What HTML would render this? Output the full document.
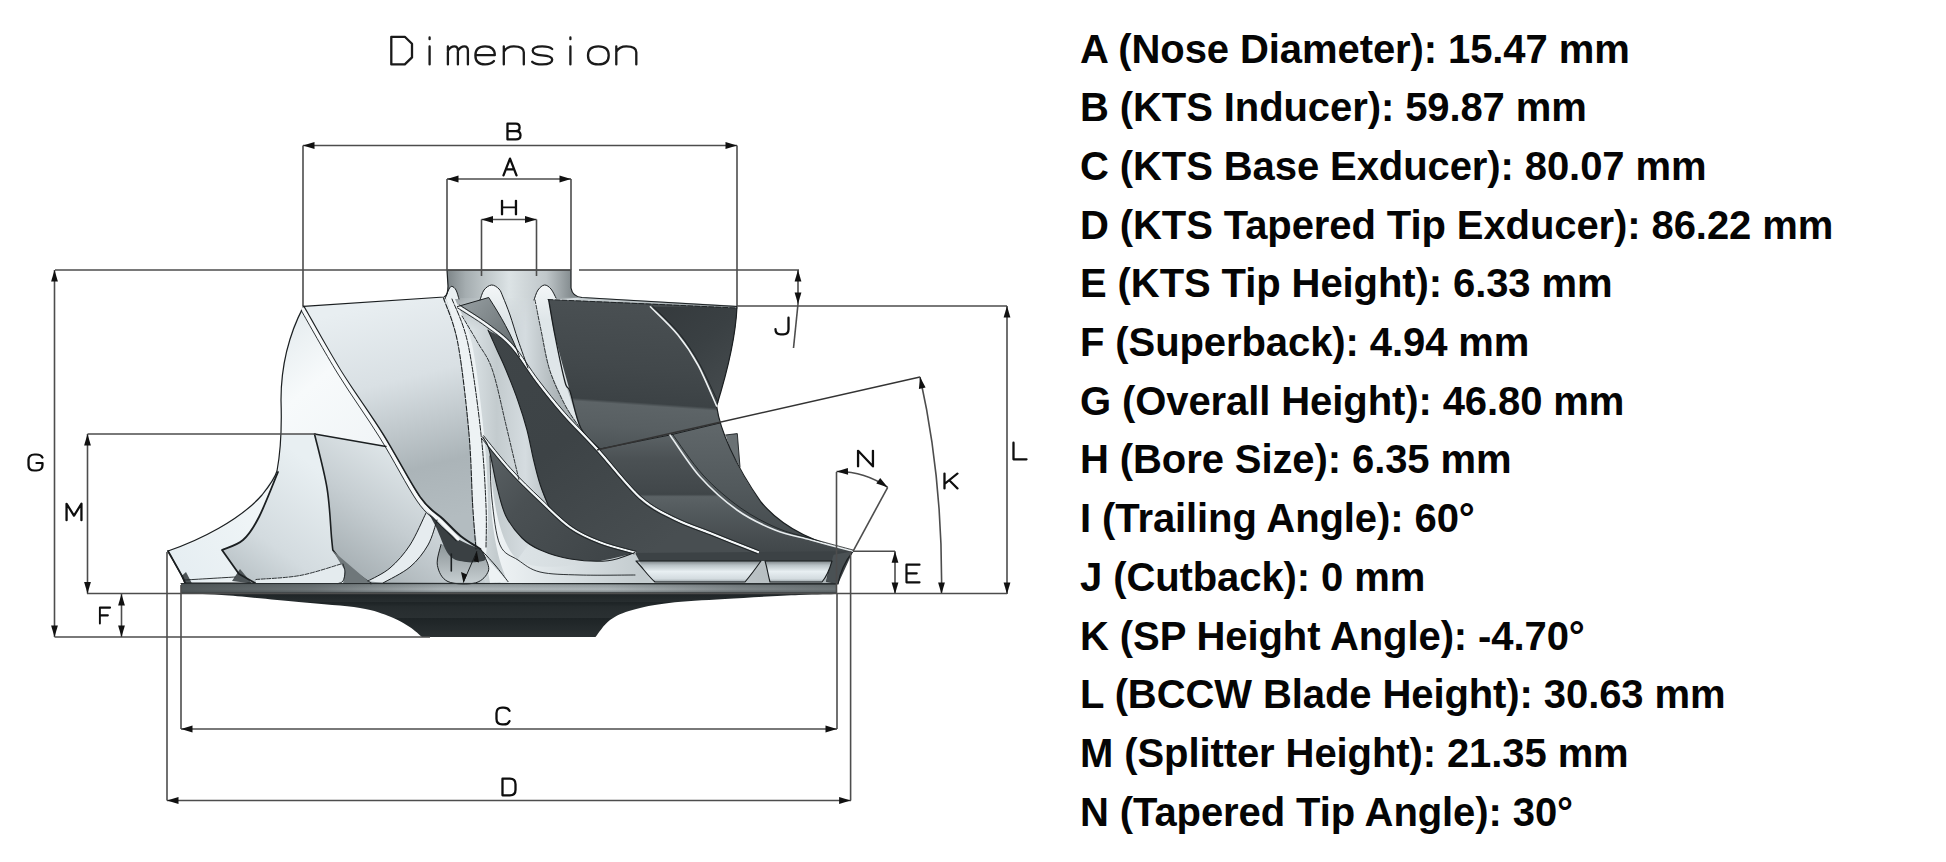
<!DOCTYPE html>
<html><head><meta charset="utf-8"><style>
html,body{margin:0;padding:0;background:#fff;width:1946px;height:862px;overflow:hidden}
svg{position:absolute;left:0;top:0}
.dl{stroke:#4d4d4d;stroke-width:1.6;fill:none}
.ah{fill:#111}
.lt{fill:none;stroke:#0e0e0e;stroke-linecap:round;stroke-linejoin:round}
.tt{fill:none;stroke:#1a1a1a;stroke-width:2.3;stroke-linecap:round;stroke-linejoin:round}
.ln{position:absolute;left:1080px;font-family:"Liberation Sans",sans-serif;font-weight:bold;font-size:40px;line-height:40px;letter-spacing:-0.09px;color:#050505;white-space:nowrap}
</style></head><body>
<svg width="1946" height="862" viewBox="0 0 1946 862">
<defs><linearGradient id="gBand" gradientUnits="userSpaceOnUse" x1="0" y1="583.5" x2="0" y2="594"><stop offset="0" stop-color="#6d7577"/><stop offset="0.15" stop-color="#98a0a3"/><stop offset="0.55" stop-color="#b2babd"/><stop offset="0.8" stop-color="#8a9295"/><stop offset="0.88" stop-color="#2e3436"/><stop offset="1" stop-color="#212729"/></linearGradient><linearGradient id="gUnder" gradientUnits="userSpaceOnUse" x1="0" y1="594" x2="0" y2="637"><stop offset="0" stop-color="#1f2527"/><stop offset="0.18" stop-color="#272d2f"/><stop offset="0.2" stop-color="#1d2325"/><stop offset="0.3" stop-color="#262c2e"/><stop offset="0.55" stop-color="#2a3032"/><stop offset="0.57" stop-color="#1e2426"/><stop offset="1" stop-color="#2a3032"/></linearGradient><linearGradient id="gBandX" gradientUnits="userSpaceOnUse" x1="181" y1="0" x2="837" y2="0"><stop offset="0" stop-color="#3f4648" stop-opacity="0.85"/><stop offset="0.2" stop-color="#3f4648" stop-opacity="0.6"/><stop offset="0.4" stop-color="#3f4648" stop-opacity="0.05"/><stop offset="0.65" stop-color="#3f4648" stop-opacity="0.05"/><stop offset="0.85" stop-color="#3f4648" stop-opacity="0.45"/><stop offset="1" stop-color="#3f4648" stop-opacity="0.6"/></linearGradient><linearGradient id="gHub" gradientUnits="userSpaceOnUse" x1="280" y1="0" x2="850" y2="0"><stop offset="0" stop-color="#eef3f5"/><stop offset="0.35" stop-color="#e0e7ea"/><stop offset="0.6" stop-color="#d0d7da"/><stop offset="1" stop-color="#a9b1b4"/></linearGradient><linearGradient id="gChan" gradientUnits="userSpaceOnUse" x1="445" y1="0" x2="560" y2="0"><stop offset="0" stop-color="#eef3f5"/><stop offset="0.2" stop-color="#dde4e7"/><stop offset="0.45" stop-color="#c3cbce"/><stop offset="0.7" stop-color="#d5dce0"/><stop offset="1" stop-color="#aab2b5"/></linearGradient><linearGradient id="gNose" gradientUnits="userSpaceOnUse" x1="447" y1="0" x2="571" y2="0"><stop offset="0" stop-color="#7d8588"/><stop offset="0.15" stop-color="#a5adb0"/><stop offset="0.5" stop-color="#dce3e5"/><stop offset="0.8" stop-color="#c0c7ca"/><stop offset="1" stop-color="#858d90"/></linearGradient><linearGradient id="gFadeV" gradientUnits="userSpaceOnUse" x1="0" y1="294" x2="0" y2="330"><stop offset="0" stop-color="#fff" stop-opacity="1"/><stop offset="1" stop-color="#fff" stop-opacity="0"/></linearGradient><mask id="mFade" maskUnits="userSpaceOnUse" x="430" y="280" width="170" height="60"><rect x="430" y="280" width="170" height="60" fill="url(#gFadeV)"/></mask><linearGradient id="gArch" gradientUnits="userSpaceOnUse" x1="0" y1="284" x2="0" y2="320"><stop offset="0" stop-color="#f4f7f8"/><stop offset="1" stop-color="#dfe6e9"/></linearGradient><linearGradient id="gOuter" gradientUnits="userSpaceOnUse" x1="280" y1="320" x2="380" y2="440"><stop offset="0" stop-color="#e4ebee"/><stop offset="0.45" stop-color="#f7fafb"/><stop offset="1" stop-color="#f1f5f7"/></linearGradient><linearGradient id="gTip" gradientUnits="userSpaceOnUse" x1="170" y1="550" x2="280" y2="470"><stop offset="0" stop-color="#e6eef2"/><stop offset="1" stop-color="#f4f8f9"/></linearGradient><linearGradient id="gB2" gradientUnits="userSpaceOnUse" x1="240" y1="580" x2="320" y2="470"><stop offset="0" stop-color="#b9c2c6"/><stop offset="0.35" stop-color="#d3dbdf"/><stop offset="1" stop-color="#e8eff2"/></linearGradient><linearGradient id="gSpl" gradientUnits="userSpaceOnUse" x1="330" y1="570" x2="410" y2="450"><stop offset="0" stop-color="#a2abaf"/><stop offset="0.5" stop-color="#c5cdd1"/><stop offset="1" stop-color="#e2e9ec"/></linearGradient><linearGradient id="gB1" gradientUnits="userSpaceOnUse" x1="390" y1="300" x2="445" y2="520"><stop offset="0" stop-color="#e8eef1"/><stop offset="0.35" stop-color="#d9e0e4"/><stop offset="0.75" stop-color="#abb4b8"/><stop offset="1" stop-color="#b3bcc0"/></linearGradient><linearGradient id="gPk" gradientUnits="userSpaceOnUse" x1="0" y1="545" x2="0" y2="583"><stop offset="0" stop-color="#8d9699"/><stop offset="1" stop-color="#c6ced1"/></linearGradient><linearGradient id="gD1" gradientUnits="userSpaceOnUse" x1="640" y1="300" x2="629.5" y2="450"><stop offset="0" stop-color="#4a5053"/><stop offset="0.45" stop-color="#42484b"/><stop offset="0.68" stop-color="#3c4245"/><stop offset="0.7" stop-color="#5d6467"/><stop offset="0.85" stop-color="#585f62"/><stop offset="1" stop-color="#4d5457"/></linearGradient><linearGradient id="gSliv" gradientUnits="userSpaceOnUse" x1="650" y1="300" x2="730" y2="400"><stop offset="0" stop-color="#34393c"/><stop offset="0.5" stop-color="#3a4043"/><stop offset="1" stop-color="#464c4f"/></linearGradient><linearGradient id="gTop" gradientUnits="userSpaceOnUse" x1="578" y1="0" x2="737" y2="0"><stop offset="0" stop-color="#c9d1d4"/><stop offset="0.5" stop-color="#b3bbbe"/><stop offset="1" stop-color="#8f979a"/></linearGradient><linearGradient id="gD2" gradientUnits="userSpaceOnUse" x1="0" y1="435" x2="0" y2="556"><stop offset="0" stop-color="#5b6265"/><stop offset="0.2" stop-color="#4b5154"/><stop offset="0.45" stop-color="#42484b"/><stop offset="0.49" stop-color="#3f4548"/><stop offset="0.51" stop-color="#5b6265"/><stop offset="0.65" stop-color="#52595c"/><stop offset="0.85" stop-color="#474d50"/><stop offset="1" stop-color="#3f4548"/></linearGradient><linearGradient id="gD2s" gradientUnits="userSpaceOnUse" x1="0" y1="425" x2="0" y2="552"><stop offset="0" stop-color="#60676a"/><stop offset="0.5" stop-color="#52595c"/><stop offset="1" stop-color="#41474a"/></linearGradient><linearGradient id="gD0" gradientUnits="userSpaceOnUse" x1="480" y1="330" x2="640" y2="560"><stop offset="0" stop-color="#3f4548"/><stop offset="0.5" stop-color="#3d4346"/><stop offset="1" stop-color="#484e51"/></linearGradient><linearGradient id="gTri" gradientUnits="userSpaceOnUse" x1="460" y1="300" x2="520" y2="350"><stop offset="0" stop-color="#979fa2"/><stop offset="1" stop-color="#626a6d"/></linearGradient><linearGradient id="gS" gradientUnits="userSpaceOnUse" x1="490" y1="450" x2="620" y2="560"><stop offset="0" stop-color="#5a6164"/><stop offset="0.35" stop-color="#4a5053"/><stop offset="1" stop-color="#3e4447"/></linearGradient><linearGradient id="gCav" gradientUnits="userSpaceOnUse" x1="0" y1="561" x2="0" y2="582"><stop offset="0" stop-color="#7d8588"/><stop offset="0.2" stop-color="#b9c2c6"/><stop offset="0.5" stop-color="#e8eff2"/><stop offset="0.85" stop-color="#d3dbdf"/><stop offset="1" stop-color="#9aa3a7"/></linearGradient><linearGradient id="gCav2" gradientUnits="userSpaceOnUse" x1="490" y1="0" x2="640" y2="0"><stop offset="0" stop-color="#f0f4f6"/><stop offset="0.5" stop-color="#d9e0e3"/><stop offset="1" stop-color="#c4cccf"/></linearGradient></defs><path d="M181,594 L837,594  C830.7,594.2 817.7,594.2 799.0,595.0 C780.3,595.8 746.7,597.7 725.0,599.0 C703.3,600.3 684.4,601.2 669.0,603.0 C653.6,604.8 642.3,607.2 632.5,610.0 C622.7,612.8 616.2,615.5 610.0,620.0 C603.8,624.5 597.9,634.2 595.5,637.0 L422,637  C419.9,635.3 414.9,630.3 409.7,627.0 C404.5,623.7 399.3,620.2 391.0,617.0 C382.7,613.8 375.4,610.5 360.0,608.0 C344.6,605.5 321.8,604.2 298.7,602.0 C275.6,599.8 241.3,596.3 221.7,595.0 C202.1,593.7 187.8,594.2 181.0,594.0 Z" fill="url(#gUnder)" stroke="none" stroke-width="1" />
<path d="M181,583.5 L837,583.5 L837,594 L181,594 Z" fill="url(#gBand)" stroke="none" stroke-width="1" />
<path d="M181,583.5 L837,583.5 L837,594 L181,594 Z" fill="url(#gBandX)" stroke="none" stroke-width="1" />
<path d="M447,270 L571,270 L571,288 C572,294 576,297 582,297.5 L737,306.5 C736,330 731,360 716.6,406 C720,430 735,465 761,502 C780,525 810,542 853,551.3 C846,560 840,572 838,584 L185,583 L182,576 C176,566 172,558 168,551 C200,540 240,520 262,495 C270,485 275,478 277,471 C280,455 282,430 281,400 C281,370 286,340 303.6,306.4 L444,297 C447,296 448,292 448,286 L447,270 Z" fill="url(#gHub)" stroke="none" stroke-width="1" />
<path d="M444,298 L582,297.5 L548.6,299.6  C549.7,305.6 552.3,322.0 555.0,335.7 C557.7,349.4 562.5,372.7 565.0,382.0 C567.5,391.3 567.3,383.6 570.0,391.4 C572.7,399.1 576.0,418.9 581.0,428.5 C586.0,438.1 596.6,445.6 599.7,449.0 L500,583 L476,583  C476.0,577.3 476.6,561.8 476.0,549.0 C475.4,536.2 473.9,525.2 472.7,506.0 C471.5,486.8 471.4,461.0 469.0,434.0 C466.6,407.0 462.2,366.7 458.0,344.0 C453.8,321.3 446.3,305.7 444.0,298.0 Z" fill="url(#gChan)" stroke="none" stroke-width="1" />
<path d="M447,270 L571,270 L571,288 C572,294 576,297 582,297.5 L556,298 L535,298 L503,298 L481,298 L459,298 L444,298 C447,296 448,292 448,286 Z" fill="url(#gNose)" stroke="none" stroke-width="1" />
<path d="M444,297 L582,297.5 L548.6,299.6 L556,340 L470,340 L458,344 Z" fill="url(#gNose)" stroke="none" stroke-width="1" mask="url(#mFade)"/>
<path d="M480.0,300.0 C480.7,298.3 482.1,292.5 484.0,290.0 C485.9,287.5 489.0,285.2 491.5,285.0 C494.0,284.8 497.1,287.0 499.0,289.0 C500.9,291.0 501.2,292.7 503.0,297.0 C504.8,301.3 507.5,307.8 510.0,315.0 C512.5,322.2 515.0,331.2 518.0,340.0 C521.0,348.8 526.3,363.3 528.0,368.0 L520,360 L505,330 L480,300 Z" fill="url(#gArch)" stroke="none" stroke-width="1" />
<path d="M534.0,300.0 C534.7,298.3 536.2,292.5 538.0,290.0 C539.8,287.5 542.3,285.2 544.5,285.0 C546.7,284.8 549.1,286.8 551.0,289.0 C552.9,291.2 555.2,296.5 556.0,298.0 L565,382 L580,428 L565,405 L549.7,370 L541,330 Z" fill="url(#gArch)" stroke="none" stroke-width="1" />
<path d="M445.0,299.0 C445.7,297.3 447.8,291.1 449.0,289.0 C450.2,286.9 450.8,286.2 452.0,286.4 C453.2,286.6 454.8,287.9 456.0,290.0 C457.2,292.1 458.5,297.5 459.0,299.0 Z" fill="#e9eff1" stroke="none" stroke-width="1" />
<path d="M303.6,306.4 C301.7,310.3 295.3,319.4 292.0,330.0 C288.7,340.6 285.8,358.3 284.0,370.0 C282.2,381.7 281.4,389.3 281.0,400.0 C280.6,410.7 281.4,428.3 281.5,434.0 L314.5,434 L386,446.5  C385.4,444.4 390.4,446.8 382.7,434.0 C375.0,421.2 353.2,391.3 340.0,370.0 C326.8,348.7 309.7,317.0 303.6,306.4 Z" fill="url(#gOuter)" stroke="none" stroke-width="1" />
<path d="M168.0,551.0 C173.2,549.2 189.2,544.8 199.4,540.4 C209.6,536.0 219.8,530.8 229.0,524.6 C238.2,518.4 247.1,511.3 254.6,503.0 C262.1,494.7 270.1,480.2 274.0,475.0 C277.9,469.8 277.3,472.5 278.0,472.0  C274.8,479.5 264.8,505.7 259.0,517.0 C253.2,528.3 249.2,534.5 243.0,540.0 C236.8,545.5 225.5,548.3 222.0,550.0 L239,574 L235,580 L185,583 L182,576 Z" fill="url(#gTip)" stroke="none" stroke-width="1" />
<path d="M278.0,472.0 C274.8,479.5 264.8,505.7 259.0,517.0 C253.2,528.3 249.2,534.5 243.0,540.0 C236.8,545.5 225.5,548.3 222.0,550.0 L239,574 L254.6,582.8 L371,583.5 L344.4,565 L332.8,550  C332.6,548.0 332.6,548.6 331.6,538.3 C330.6,528.0 329.9,505.4 327.0,488.0 C324.1,470.6 316.6,443.0 314.5,434.0 L281.5,434 C281,450 280,460 278,472 Z" fill="url(#gB2)" stroke="none" stroke-width="1" />
<path d="M232,581 L240,569 L252,583.5 Z" fill="#4d5457" stroke="none" stroke-width="1" />
<path d="M181.5,576 L186,572 L192,583.5 L185,583.5 Z" fill="#4d5457" stroke="none" stroke-width="1" />
<path d="M314.5,434 L386,446.5  C389.0,450.8 398.3,463.6 404.0,472.0 C409.7,480.4 413.5,489.2 420.0,497.0 C426.5,504.8 436.2,512.5 443.0,519.0 C449.8,525.5 454.4,531.0 460.6,536.0 C466.8,541.0 477.0,546.8 480.3,549.0 L485,583 L371,583.5 L344.4,565 L332.8,550  C332.6,548.0 332.6,548.6 331.6,538.3 C330.6,528.0 329.9,505.4 327.0,488.0 C324.1,470.6 316.6,443.0 314.5,434.0 Z" fill="url(#gSpl)" stroke="none" stroke-width="1" />
<path d="M426.0,513.0 C423.3,518.3 416.0,535.8 410.0,545.0 C404.0,554.2 397.0,562.0 390.0,568.0 C383.0,574.0 371.7,578.8 368.0,581.0 L383,583  C387.5,580.3 402.5,573.3 410.0,567.0 C417.5,560.7 423.5,552.8 428.0,545.0 C432.5,537.2 435.5,524.2 437.0,520.0 Z" fill="#e6ecef" stroke="none" stroke-width="1" />
<path d="M303.6,306.4 L445.7,297  C447.8,304.8 454.1,321.2 458.0,344.0 C461.9,366.8 466.6,407.0 469.0,434.0 C471.4,461.0 471.5,486.8 472.7,506.0 C473.9,525.2 475.4,541.2 476.0,549.0 C476.6,556.8 476.0,552.0 476.0,552.6  C477.0,546.8 466.8,541.0 460.6,536.0 C454.4,531.0 449.8,525.5 443.0,519.0 C436.2,512.5 430.1,511.2 420.0,497.0 C409.9,482.8 396.0,455.2 382.7,434.0 C369.4,412.8 353.2,391.3 340.0,370.0 C326.8,348.7 309.7,317.0 303.6,306.4 Z" fill="url(#gB1)" stroke="none" stroke-width="1" />
<path d="M445.7,297.0 C447.8,304.8 454.1,321.2 458.0,344.0 C461.9,366.8 466.6,407.0 469.0,434.0 C471.4,461.0 471.2,486.8 472.7,506.0 C474.2,525.2 477.1,541.8 478.0,549.0 L508,581.6 L490,583 L486,560  C486.3,551.0 488.3,527.0 488.0,506.0 C487.7,485.0 486.7,461.0 484.0,434.0 C481.3,407.0 476.8,366.5 472.0,344.0 C467.2,321.5 457.8,306.5 455.0,299.0 Z" fill="#edf2f4" stroke="none" stroke-width="1" />
<path d="M441.0,544.5 C440.4,548.0 436.2,559.2 437.4,565.4 C438.6,571.6 441.6,578.7 448.0,581.6 C454.4,584.5 469.0,584.6 475.7,582.8 C482.4,581.0 486.8,575.3 488.4,571.0 C489.9,566.7 486.4,560.7 485.0,557.0 C483.6,553.3 481.1,550.3 480.3,549.0 L441,544.5 Z" fill="url(#gPk)" stroke="none" stroke-width="1" />
<path d="M419.0,497.0 C422.0,501.0 431.0,514.3 437.0,521.0 C443.0,527.7 449.5,533.0 455.0,537.0 C460.5,541.0 465.8,543.0 470.0,545.0 C474.2,547.0 478.6,548.3 480.3,549.0  C481.0,550.2 483.9,554.0 484.5,556.0 C485.1,558.0 486.8,559.8 483.8,560.8 C480.8,561.8 472.2,563.0 466.4,562.0 C460.6,561.0 454.2,561.2 449.0,555.0 C443.8,548.8 440.0,534.7 435.0,525.0 C430.0,515.3 421.7,501.7 419.0,497.0 Z" fill="#3a4043" stroke="none" stroke-width="1" />
<path d="M548.6,299.6 L737,306.5 C736,330 731,360 716.6,406 L720,423 L670,435 L599.7,449  C596.6,445.6 586.0,438.1 581.0,428.5 C576.0,418.9 574.3,406.9 570.0,391.4 C565.7,375.9 558.6,351.0 555.0,335.7 C551.4,320.4 549.7,305.6 548.6,299.6 Z" fill="url(#gD1)" stroke="none" stroke-width="1" />
<path d="M650.4,306.8 C655.0,311.5 670.1,325.3 678.0,335.0 C685.9,344.7 691.6,353.2 698.0,365.0 C704.4,376.8 713.5,399.2 716.6,406.0 C731,360 736,330 737,306.5 Z" fill="url(#gSliv)" stroke="none" stroke-width="1" />
<path d="M578.5,296.8 L737,305.8 L737,308 L578.5,299.8 Z" fill="url(#gTop)" stroke="none" stroke-width="1" />
<path d="M599.7,449 L670,435 L720,423 C730,450 740,475 761,502 C780,525 810,542 853,551.3 L833.6,556 L600,556 Z" fill="url(#gD2)" stroke="none" stroke-width="1" />
<path d="M670.0,435.0 C675.0,442.0 688.8,464.3 700.0,476.8 C711.2,489.3 724.5,501.1 737.0,510.0 C749.5,518.9 762.7,525.0 775.0,530.0 C787.3,535.0 798.0,536.5 811.0,540.0 C824.0,543.5 846.0,549.4 853.0,551.3 C810,542 780,525 761,502 C740,475 730,450 720,423 Z" fill="url(#gD2s)" stroke="none" stroke-width="1" />
<path d="M725.6,435 L737.3,433.6 L740,467 L731,452 Z" fill="#6a7174" stroke="none" stroke-width="1" />
<path d="M488.0,330.0 C492.0,332.7 503.7,337.3 512.0,346.0 C520.3,354.7 529.3,370.7 538.0,382.0 C546.7,393.3 554.2,402.8 564.0,414.0 C573.8,425.2 584.3,435.1 597.0,449.0 C609.7,462.9 627.0,485.8 640.0,497.5 C653.0,509.2 663.3,513.1 675.0,519.0 C686.7,524.9 700.0,529.0 710.0,533.0 C720.0,537.0 727.0,539.8 735.0,543.0 C743.0,546.2 754.2,550.5 758.0,552.0 L759,555 L633,555  C625.8,553.3 601.3,549.2 590.0,545.0 C578.7,540.8 571.8,536.2 565.0,530.0 C558.2,523.8 553.5,515.5 549.4,508.0 C545.3,500.5 542.9,493.0 540.3,485.0 C537.7,477.0 535.8,469.2 533.6,460.0 C531.4,450.8 529.6,439.8 527.0,430.0 C524.4,420.2 521.5,411.0 518.0,401.0 C514.5,391.0 509.5,378.5 506.0,370.0 C502.5,361.5 500.0,356.7 497.0,350.0 C494.0,343.3 489.5,333.3 488.0,330.0 Z" fill="url(#gD0)" stroke="none" stroke-width="1" />
<path d="M457.4,306.6 L488.7,297.5 C500,315 512,335 519.4,356.7 C505,340 485,322 457.4,306.6 Z" fill="url(#gTri)" stroke="none" stroke-width="1" />
<path d="M482.7,437.0 C487.2,442.5 500.4,459.5 510.0,470.0 C519.5,480.5 529.9,490.4 540.0,500.0 C550.1,509.6 560.4,520.4 570.5,527.5 C580.6,534.6 590.0,538.4 600.7,542.6 C611.5,546.8 629.3,550.9 635.0,552.5  C630.5,553.9 618.8,559.6 608.0,560.7 C597.2,561.8 581.8,560.8 570.5,559.0 C559.2,557.2 548.4,553.5 540.3,550.0 C532.2,546.5 527.8,543.8 522.0,538.0 C516.2,532.2 509.8,524.2 505.6,515.4 C501.4,506.6 499.4,496.1 496.6,485.0 C493.8,473.9 491.3,457.0 489.0,449.0 C486.7,441.0 483.8,439.0 482.7,437.0 Z" fill="url(#gS)" stroke="none" stroke-width="1" />
<path d="M633,553 L853,551.3 L838,584 L826,582 L830,561 L636,561 Z" fill="#3c4245" stroke="none" stroke-width="1" />
<path d="M636,561 L761,561 C756,568 750,576 745,582 L655,582 C648,576 643,568 636,561 Z" fill="url(#gCav)" stroke="none" stroke-width="1" />
<path d="M765,561 L832,561 C830,568 827,576 822,582 L770,582 C768,575 767,567 765,561 Z" fill="url(#gCav)" stroke="none" stroke-width="1" />
<path d="M490,456 C492,500 500,545 518,560 C540,575 600,562 635,553 C642,565 646,575 652,583 L509,583 C498,565 488,520 490,456 Z" fill="url(#gCav2)" stroke="none" stroke-width="1" />
<path d="M833.6,554.8 L853,551.3 C846,560 840,572 838,584 L826,581 C829,575 831,562 833.6,554.8 Z" fill="#4a5154" stroke="none" stroke-width="1" />
<path d="M447,270 L571,270 L571,288 C572,294 576,297 582,297.5 L737,306.5 C736,330 731,360 716.6,406 C720,430 735,465 761,502 C780,525 810,542 853,551.3 C846,560 840,572 838,584 L185,583 L182,576 C176,566 172,558 168,551 C200,540 240,520 262,495 C270,485 275,478 277,471 C280,455 282,430 281,400 C281,370 286,340 303.6,306.4 L444,297 C447,296 448,292 448,286 L447,270 Z" fill="none" stroke="#1b1f21" stroke-width="1.2" stroke-linecap="round" stroke-linejoin="round" />
<path d="M303.6,306.4 C309.7,317.0 326.8,348.7 340.0,370.0 C353.2,391.3 369.4,412.8 382.7,434.0 C396.0,455.2 409.9,482.8 420.0,497.0 C430.1,511.2 436.2,512.5 443.0,519.0 C449.8,525.5 454.4,531.0 460.6,536.0 C466.8,541.0 477.0,546.8 480.3,549.0" fill="none" stroke="#1b1f21" stroke-width="2.0" stroke-linecap="round" stroke-linejoin="round" />
<path d="M303.0,309.0 C309.1,319.5 326.4,350.8 339.5,372.0 C352.6,393.2 368.3,414.8 381.5,436.0 C394.7,457.2 408.6,484.8 418.5,499.0 C428.4,513.2 434.4,514.8 441.0,521.5 C447.6,528.2 455.2,536.1 458.0,539.0" fill="none" stroke="#f7f9fa" stroke-width="3.2" stroke-linecap="round" stroke-linejoin="round" />
<path d="M301.5,311.0 C307.6,321.5 324.9,352.8 338.0,374.0 C351.1,395.2 366.8,416.8 380.0,438.0 C393.2,459.2 407.2,486.7 417.0,501.0 C426.8,515.3 432.5,517.3 439.0,524.0 C445.5,530.7 453.2,538.2 456.0,541.0" fill="none" stroke="#1b1f21" stroke-width="0.9" stroke-linecap="round" stroke-linejoin="round" />
<path d="M443.5,298.0 C445.9,305.7 453.8,321.3 458.0,344.0 C462.2,366.7 466.6,407.0 469.0,434.0 C471.4,461.0 471.5,486.8 472.7,506.0 C473.9,525.2 475.4,541.8 476.0,549.0" fill="none" stroke="#1b1f21" stroke-width="1.1" stroke-linecap="round" stroke-linejoin="round" stroke-dasharray="5 1.5"/>
<path d="M452.0,299.0 C454.7,306.5 463.2,321.5 468.0,344.0 C472.8,366.5 478.0,407.0 481.0,434.0 C484.0,461.0 485.2,487.0 486.0,506.0 C486.8,525.0 486.0,541.0 486.0,548.0" fill="none" stroke="#1b1f21" stroke-width="1.0" stroke-linecap="round" stroke-linejoin="round" stroke-dasharray="5 1.5"/>
<path d="M314.5,434 L386,446.5" fill="none" stroke="#1b1f21" stroke-width="1.3" stroke-linecap="round" stroke-linejoin="round" />
<path d="M314.5,434.0 C316.6,443.0 324.1,470.6 327.0,488.0 C329.9,505.4 330.6,528.0 331.6,538.3 C332.6,548.6 332.6,548.0 332.8,550.0 L344.4,565 L367.6,581.2 L371,583.5" fill="none" stroke="#1b1f21" stroke-width="1.6" stroke-linecap="round" stroke-linejoin="round" />
<path d="M278.0,472.0 C274.8,479.5 264.8,505.7 259.0,517.0 C253.2,528.3 249.2,534.5 243.0,540.0 C236.8,545.5 225.5,548.3 222.0,550.0 L239,574 L254.6,582.8" fill="none" stroke="#1b1f21" stroke-width="1.8" stroke-linecap="round" stroke-linejoin="round" />
<path d="M168.0,551.0 C170.3,555.2 179.2,570.7 182.0,576.0 C184.8,581.3 184.5,581.8 185.0,583.0" fill="none" stroke="#1b1f21" stroke-width="1.8" stroke-linecap="round" stroke-linejoin="round" />
<path d="M185.0,580.0 C193.3,579.5 226.7,577.5 235.0,577.0" fill="none" stroke="#1b1f21" stroke-width="0.9" stroke-linecap="round" stroke-linejoin="round" />
<path d="M333,551 L371,583.5 L343,583.5 L344.5,570 Z" fill="#6f777a" stroke="none" stroke-width="1" />
<path d="M256.0,579.5 C263.3,578.8 285.8,578.1 300.0,575.5 C314.2,572.9 334.2,565.9 341.0,564.0 L344.5,570 L343,583.5 L256,583.5 Z" fill="#e4ebee" stroke="none" stroke-width="1" />
<path d="M256.0,579.5 C263.3,578.8 285.8,578.1 300.0,575.5 C314.2,572.9 334.2,565.9 341.0,564.0" fill="none" stroke="#1b1f21" stroke-width="0.9" stroke-linecap="round" stroke-linejoin="round" stroke-dasharray="4 1.5"/>
<path d="M343.0,564.0 C343.3,565.3 345.0,569.2 345.0,572.0 C345.0,574.8 344.2,579.1 343.0,581.0 C341.8,582.9 338.8,583.1 338.0,583.5" fill="none" stroke="#1b1f21" stroke-width="0.9" stroke-linecap="round" stroke-linejoin="round" />
<path d="M426.0,513.0 C423.3,518.3 416.0,535.8 410.0,545.0 C404.0,554.2 397.0,562.0 390.0,568.0 C383.0,574.0 371.7,578.8 368.0,581.0" fill="none" stroke="#1b1f21" stroke-width="1.0" stroke-linecap="round" stroke-linejoin="round" />
<path d="M437.0,520.0 C435.5,524.2 432.5,537.2 428.0,545.0 C423.5,552.8 417.5,560.7 410.0,567.0 C402.5,573.3 387.5,580.3 383.0,583.0" fill="none" stroke="#1b1f21" stroke-width="1.0" stroke-linecap="round" stroke-linejoin="round" />
<path d="M441.0,544.5 C440.4,548.0 436.2,559.2 437.4,565.4 C438.6,571.6 441.6,578.7 448.0,581.6 C454.4,584.5 469.0,584.6 475.7,582.8 C482.4,581.0 486.8,575.3 488.4,571.0 C489.9,566.7 486.4,560.7 485.0,557.0 C483.6,553.3 481.1,550.3 480.3,549.0" fill="none" stroke="#1b1f21" stroke-width="1.0" stroke-linecap="round" stroke-linejoin="round" />
<path d="M480.3,549.0 C482.8,551.7 490.4,559.6 495.0,565.0 C499.6,570.4 505.8,578.8 508.0,581.6" fill="none" stroke="#1b1f21" stroke-width="1.0" stroke-linecap="round" stroke-linejoin="round" />
<path d="M451.3,554 V571" fill="none" stroke="#1b1f21" stroke-width="1.6" stroke-linecap="round" stroke-linejoin="round" />
<path d="M463.5,582 L476.8,551.5" fill="none" stroke="#1b1f21" stroke-width="1.0" stroke-linecap="round" stroke-linejoin="round" />
<path d="M463.5,583 L461,572 L467,574.5 Z" fill="#111" stroke="none" stroke-width="1" />
<path d="M476.8,551 L473.5,561 L479,562.5 Z" fill="#111" stroke="none" stroke-width="1" />
<path d="M548.6,299.6 C549.7,305.6 552.3,322.0 555.0,335.7 C557.7,349.4 562.5,372.7 565.0,382.0 C567.5,391.3 567.3,383.6 570.0,391.4 C572.7,399.1 576.0,418.9 581.0,428.5 C586.0,438.1 596.6,445.6 599.7,449.0" fill="none" stroke="#1b1f21" stroke-width="1.3" stroke-linecap="round" stroke-linejoin="round" />
<path d="M548,299.5 L737,308" fill="none" stroke="#1b1f21" stroke-width="0.9" stroke-linecap="round" stroke-linejoin="round" stroke-dasharray="5 2"/>
<path d="M650.4,306.8 C655.0,311.5 670.1,325.3 678.0,335.0 C685.9,344.7 691.6,353.2 698.0,365.0 C704.4,376.8 713.5,399.2 716.6,406.0" fill="none" stroke="#eef2f3" stroke-width="1.6" stroke-linecap="round" stroke-linejoin="round" />
<path d="M652.0,305.5 C656.6,310.2 671.6,323.8 679.5,333.5 C687.4,343.2 693.1,352.1 699.5,363.5 C705.9,374.9 714.9,395.6 718.0,402.0" fill="none" stroke="#1b1f21" stroke-width="0.8" stroke-linecap="round" stroke-linejoin="round" />
<path d="M599.7,449 L670,435 L720,423" fill="none" stroke="#1b1f21" stroke-width="1.0" stroke-linecap="round" stroke-linejoin="round" />
<path d="M670.0,435.0 C675.0,442.0 688.8,464.3 700.0,476.8 C711.2,489.3 724.5,501.1 737.0,510.0 C749.5,518.9 762.7,525.0 775.0,530.0 C787.3,535.0 798.0,536.5 811.0,540.0 C824.0,543.5 846.0,549.4 853.0,551.3" fill="none" stroke="#e8edef" stroke-width="1.6" stroke-linecap="round" stroke-linejoin="round" />
<path d="M672.0,433.5 C677.2,440.4 691.7,462.7 703.0,475.0 C714.3,487.3 727.7,498.7 740.0,507.5 C752.3,516.3 765.2,522.8 777.0,528.0 C788.8,533.2 798.3,534.8 811.0,538.5 C823.7,542.2 846.0,548.1 853.0,550.0" fill="none" stroke="#1b1f21" stroke-width="0.8" stroke-linecap="round" stroke-linejoin="round" />
<path d="M725.6,435 L737.3,433.6 L740,467" fill="none" stroke="#1b1f21" stroke-width="0.9" stroke-linecap="round" stroke-linejoin="round" />
<path d="M458.6,306.4 C463.3,309.5 478.1,318.4 487.0,325.0 C495.9,331.6 503.5,336.5 512.0,346.0 C520.5,355.5 529.3,370.7 538.0,382.0 C546.7,393.3 554.2,402.8 564.0,414.0 C573.8,425.2 584.3,435.1 597.0,449.0 C609.7,462.9 627.0,485.8 640.0,497.5 C653.0,509.2 663.3,513.1 675.0,519.0 C686.7,524.9 700.0,529.0 710.0,533.0 C720.0,537.0 727.0,539.8 735.0,543.0 C743.0,546.2 754.2,550.5 758.0,552.0" fill="none" stroke="#f4f7f8" stroke-width="2.2" stroke-linecap="round" stroke-linejoin="round" />
<path d="M457.5,307.9 C462.2,311.0 477.0,319.9 485.9,326.5 C494.8,333.1 502.4,338.0 510.9,347.5 C519.4,357.0 528.2,372.2 536.9,383.5 C545.6,394.8 553.1,404.3 562.9,415.5 C572.7,426.7 583.2,436.6 595.9,450.5 C608.6,464.4 625.9,487.3 638.9,499.0 C651.9,510.7 662.2,514.6 673.9,520.5 C685.6,526.4 698.9,530.5 708.9,534.5 C718.9,538.5 725.9,541.3 733.9,544.5 C741.9,547.7 753.1,552.0 756.9,553.5" fill="none" stroke="#1b1f21" stroke-width="0.9" stroke-linecap="round" stroke-linejoin="round" />
<path d="M459.5,305.0 C464.2,308.1 479.0,317.0 487.9,323.6 C496.8,330.2 504.4,335.1 512.9,344.6 C521.4,354.1 530.2,369.3 538.9,380.6 C547.6,391.9 555.1,401.4 564.9,412.6 C574.7,423.8 585.2,433.7 597.9,447.6 C610.6,461.5 627.9,484.4 640.9,496.1 C653.9,507.8 664.2,511.7 675.9,517.6 C687.6,523.5 700.9,527.6 710.9,531.6 C720.9,535.6 727.9,538.4 735.9,541.6 C743.9,544.8 755.1,549.1 758.9,550.6" fill="none" stroke="#1b1f21" stroke-width="0.9" stroke-linecap="round" stroke-linejoin="round" />
<path d="M549.4,508.0 C547.9,504.2 542.9,493.0 540.3,485.0 C537.7,477.0 535.8,469.2 533.6,460.0 C531.4,450.8 529.6,439.8 527.0,430.0 C524.4,420.2 521.5,411.0 518.0,401.0 C514.5,391.0 509.5,378.5 506.0,370.0 C502.5,361.5 500.0,356.7 497.0,350.0 C494.0,343.3 489.5,333.3 488.0,330.0" fill="none" stroke="#1b1f21" stroke-width="1.1" stroke-linecap="round" stroke-linejoin="round" />
<path d="M457.4,306.6 L488.7,297.5 C500,315 512,335 519.4,356.7" fill="none" stroke="#1b1f21" stroke-width="1.0" stroke-linecap="round" stroke-linejoin="round" />
<path d="M482.7,437.0 C487.2,442.5 500.4,459.5 510.0,470.0 C519.5,480.5 529.9,490.4 540.0,500.0 C550.1,509.6 560.4,520.4 570.5,527.5 C580.6,534.6 590.0,538.4 600.7,542.6 C611.5,546.8 629.3,550.9 635.0,552.5" fill="none" stroke="#f2f6f7" stroke-width="2.1" stroke-linecap="round" stroke-linejoin="round" />
<path d="M481.7,438.4 C486.2,443.9 499.4,460.9 509.0,471.4 C518.5,481.9 528.9,491.8 539.0,501.4 C549.1,511.0 559.4,521.8 569.5,528.9 C579.6,536.0 589.0,539.8 599.7,544.0 C610.5,548.2 628.3,552.2 634.0,553.9" fill="none" stroke="#1b1f21" stroke-width="0.9" stroke-linecap="round" stroke-linejoin="round" />
<path d="M483.6,435.7 C488.1,441.2 501.3,458.2 510.9,468.7 C520.4,479.2 530.8,489.1 540.9,498.7 C551.0,508.3 561.3,519.1 571.4,526.2 C581.5,533.3 590.9,537.1 601.6,541.3 C612.4,545.5 630.2,549.6 635.9,551.2" fill="none" stroke="#1b1f21" stroke-width="0.9" stroke-linecap="round" stroke-linejoin="round" />
<path d="M635.0,552.5 C630.5,553.9 618.8,559.6 608.0,560.7 C597.2,561.8 581.8,560.8 570.5,559.0 C559.2,557.2 548.4,553.5 540.3,550.0 C532.2,546.5 527.8,543.8 522.0,538.0 C516.2,532.2 509.8,524.2 505.6,515.4 C501.4,506.6 499.4,496.1 496.6,485.0 C493.8,473.9 491.3,457.0 489.0,449.0 C486.7,441.0 483.8,439.0 482.7,437.0" fill="none" stroke="#1b1f21" stroke-width="1.1" stroke-linecap="round" stroke-linejoin="round" />
<path d="M490.0,456.0 C490.3,463.3 490.3,485.2 492.0,500.0 C493.7,514.8 495.7,535.0 500.0,545.0 C504.3,555.0 511.3,555.5 518.0,560.0 C524.7,564.5 529.7,569.5 540.0,572.0 C550.3,574.5 564.2,574.5 580.0,575.0 C595.8,575.5 625.8,575.0 635.0,575.0" fill="none" stroke="#1b1f21" stroke-width="0.9" stroke-linecap="round" stroke-linejoin="round" />
<path d="M636,561 L761,561 C756,568 750,576 745,582 L655,582 C648,576 643,568 636,561" fill="none" stroke="#1b1f21" stroke-width="1.1" stroke-linecap="round" stroke-linejoin="round" />
<path d="M765,561 L832,561 C830,568 827,576 822,582 L770,582 C768,575 767,567 765,561" fill="none" stroke="#1b1f21" stroke-width="1.1" stroke-linecap="round" stroke-linejoin="round" />
<path d="M445.0,299.0 C445.7,297.3 447.8,291.1 449.0,289.0 C450.2,286.9 450.8,286.2 452.0,286.4 C453.2,286.6 454.8,287.9 456.0,290.0 C457.2,292.1 458.5,297.5 459.0,299.0" fill="none" stroke="#1b1f21" stroke-width="1.0" stroke-linecap="round" stroke-linejoin="round" />
<path d="M480.0,300.0 C480.7,298.3 482.1,292.5 484.0,290.0 C485.9,287.5 489.0,285.2 491.5,285.0 C494.0,284.8 497.1,287.0 499.0,289.0 C500.9,291.0 501.2,292.7 503.0,297.0 C504.8,301.3 507.5,307.8 510.0,315.0 C512.5,322.2 515.0,331.2 518.0,340.0 C521.0,348.8 526.3,363.3 528.0,368.0" fill="none" stroke="#1b1f21" stroke-width="1.0" stroke-linecap="round" stroke-linejoin="round" />
<path d="M462.0,316.0 C464.7,320.5 472.9,334.0 478.0,343.0 C483.1,352.0 487.7,356.3 492.4,370.0 C497.1,383.7 501.6,406.7 506.0,425.0 C510.4,443.3 516.8,470.8 519.0,480.0" fill="none" stroke="#1b1f21" stroke-width="0.9" stroke-linecap="round" stroke-linejoin="round" stroke-dasharray="4 1.5"/>
<path d="M534.0,300.0 C534.7,298.3 536.2,292.5 538.0,290.0 C539.8,287.5 542.3,285.2 544.5,285.0 C546.7,284.8 549.1,286.8 551.0,289.0 C552.9,291.2 555.2,296.5 556.0,298.0" fill="none" stroke="#1b1f21" stroke-width="1.0" stroke-linecap="round" stroke-linejoin="round" />
<path d="M535.0,300.0 C536.0,305.0 538.5,318.3 541.0,330.0 C543.5,341.7 545.7,357.5 549.7,370.0 C553.7,382.5 560.0,395.3 565.0,405.0 C570.0,414.7 577.5,424.2 580.0,428.0" fill="none" stroke="#1b1f21" stroke-width="0.9" stroke-linecap="round" stroke-linejoin="round" stroke-dasharray="4 1.5"/>
<path d="M181,583.5 L837,583.5" fill="none" stroke="#2a2f31" stroke-width="1.0" stroke-linecap="round" stroke-linejoin="round" />
<line x1="55" y1="270" x2="571" y2="270" class="dl"/><line x1="579" y1="270" x2="799" y2="270" class="dl"/><line x1="303" y1="145.5" x2="737" y2="145.5" class="dl"/><line x1="303" y1="145.5" x2="303" y2="306" class="dl"/><line x1="737" y1="145.5" x2="737" y2="306" class="dl"/><path d="M303.0,145.5 L314.5,142.1 L314.5,148.9 Z" class="ah"/><path d="M737.0,145.5 L725.5,148.9 L725.5,142.1 Z" class="ah"/><path d="M0,0 H9 Q13,0 13,4.5 Q13,8.6 9,8.6 H0 M9,8.6 Q14,8.6 14,13.3 Q14,18 9,18 H0 V0" transform="translate(507.49,123.595) scale(0.930,0.878)" class="lt" stroke-width="2.47"/><line x1="447" y1="179" x2="571" y2="179" class="dl"/><line x1="447" y1="179" x2="447" y2="270" class="dl"/><line x1="571" y1="179" x2="571" y2="270" class="dl"/><path d="M447.0,179.0 L458.5,175.6 L458.5,182.4 Z" class="ah"/><path d="M571.0,179.0 L559.5,182.4 L559.5,175.6 Z" class="ah"/><path d="M0,18 L7,0 L14,18 M2.8,11.5 H11.2" transform="translate(503.49,158.63) scale(0.930,0.930)" class="lt" stroke-width="2.47"/><line x1="481.5" y1="219.5" x2="536.5" y2="219.5" class="dl"/><line x1="481.5" y1="219.5" x2="481.5" y2="276" class="dl"/><line x1="536.5" y1="219.5" x2="536.5" y2="276" class="dl"/><path d="M481.5,219.5 L493.0,216.1 L493.0,222.9 Z" class="ah"/><path d="M536.5,219.5 L525.0,222.9 L525.0,216.1 Z" class="ah"/><path d="M0,0 V18 M14,0 V18 M0,8.8 H14" transform="translate(502.025,200.525) scale(0.996,0.775)" class="lt" stroke-width="2.31"/><line x1="798" y1="270" x2="798" y2="304" class="dl"/><line x1="798" y1="304" x2="793.5" y2="348" class="dl"/><path d="M798.0,270.0 L801.4,281.5 L794.6,281.5 Z" class="ah"/><path d="M798.0,304.0 L794.6,292.5 L801.4,292.5 Z" class="ah"/><path d="M14,0 V12.5 Q14,18 8.5,18 H5.5 Q0,18 0,12.5" transform="translate(775.49,317.63) scale(0.930,0.930)" class="lt" stroke-width="2.47"/><line x1="737" y1="306" x2="1007" y2="306" class="dl"/><line x1="1007" y1="306" x2="1007" y2="594" class="dl"/><path d="M1007.0,306.0 L1010.4,317.5 L1003.6,317.5 Z" class="ah"/><path d="M1007.0,594.0 L1003.6,582.5 L1010.4,582.5 Z" class="ah"/><path d="M0,0 V18 H14" transform="translate(1013.49,442.63) scale(0.930,0.930)" class="lt" stroke-width="2.47"/><line x1="597" y1="450" x2="920" y2="377" stroke="#333333" stroke-width="1.4"/><path d="M920,377 Q943,480 941.5,594" class="dl" fill="none"/><path d="M920.0,377.0 L925.6,387.6 L918.9,388.9 Z" class="ah"/><path d="M941.5,594.0 L938.1,582.5 L944.9,582.5 Z" class="ah"/><path d="M0,0 V18 M14,0 L0,12.5 M5,8 L14,18" transform="translate(944.49,473.56) scale(0.930,0.827)" class="lt" stroke-width="2.47"/><line x1="836.5" y1="472" x2="836.5" y2="594" class="dl"/><line x1="853" y1="551.3" x2="887.7" y2="487.3" class="dl"/><path d="M836.5,471.5 Q864,471 887.7,487.3" class="dl" fill="none"/><path d="M836.5,471.6 L847.9,468.0 L848.1,474.8 Z" class="ah"/><path d="M887.7,487.3 L876.3,483.5 L880.2,477.9 Z" class="ah"/><path d="M0,18 V0 L14,18 V0" transform="translate(858.06,450.595) scale(1.063,0.878)" class="lt" stroke-width="2.16"/><line x1="853" y1="551.3" x2="895" y2="551.3" class="dl"/><line x1="895" y1="551.3" x2="895" y2="594" class="dl"/><path d="M895.0,551.3 L898.4,562.8 L891.6,562.8 Z" class="ah"/><path d="M895.0,594.0 L891.6,582.5 L898.4,582.5 Z" class="ah"/><path d="M14,0 H0 V18 H14 M0,8.8 H11" transform="translate(906.49,564.665) scale(0.930,0.982)" class="lt" stroke-width="2.34"/><line x1="87" y1="593.5" x2="1007" y2="593.5" class="dl"/><line x1="54.5" y1="270" x2="54.5" y2="637" class="dl"/><path d="M54.5,270.0 L57.9,281.5 L51.1,281.5 Z" class="ah"/><path d="M54.5,637.0 L51.1,625.5 L57.9,625.5 Z" class="ah"/><path d="M14,3.5 Q12.5,0 8,0 H6 Q0,0 0,6 V12 Q0,18 6,18 H8 Q14,18 14,12 V9.5 H8" transform="translate(28.525,454.595) scale(0.996,0.878)" class="lt" stroke-width="2.31"/><line x1="54.5" y1="637" x2="430" y2="637" class="dl"/><line x1="87.5" y1="434" x2="316" y2="434" class="dl"/><line x1="87.5" y1="434" x2="87.5" y2="593.5" class="dl"/><path d="M87.5,434.0 L90.9,445.5 L84.1,445.5 Z" class="ah"/><path d="M87.5,593.5 L84.1,582.0 L90.9,582.0 Z" class="ah"/><path d="M0,18 V0 L7,13 L14,0 V18" transform="translate(66.56,503.63) scale(1.063,0.930)" class="lt" stroke-width="2.16"/><line x1="121.5" y1="594" x2="121.5" y2="637" class="dl"/><path d="M121.5,594.0 L124.9,605.5 L118.1,605.5 Z" class="ah"/><path d="M121.5,637.0 L118.1,625.5 L124.9,625.5 Z" class="ah"/><path d="M14,0 H0 V18 M0,8.8 H11" transform="translate(99.885,607.595) scale(0.731,0.878)" class="lt" stroke-width="2.62"/><line x1="181" y1="585" x2="181" y2="729" class="dl"/><line x1="837" y1="594" x2="837" y2="729" class="dl"/><line x1="181" y1="729" x2="837" y2="729" class="dl"/><path d="M181.0,729.0 L192.5,725.6 L192.5,732.4 Z" class="ah"/><path d="M837.0,729.0 L825.5,732.4 L825.5,725.6 Z" class="ah"/><path d="M14,3.5 Q12.5,0 8,0 H6 Q0,0 0,6 V12 Q0,18 6,18 H8 Q12.5,18 14,14.5" transform="translate(496.49,707.63) scale(0.930,0.930)" class="lt" stroke-width="2.47"/><line x1="167" y1="552" x2="167" y2="800.5" class="dl"/><line x1="850.6" y1="551.3" x2="850.6" y2="800.5" class="dl"/><line x1="167" y1="800.5" x2="851" y2="800.5" class="dl"/><path d="M167.0,800.5 L178.5,797.1 L178.5,803.9 Z" class="ah"/><path d="M850.6,800.5 L839.1,803.9 L839.1,797.1 Z" class="ah"/><path d="M0,0 H8 Q14,0 14,6 V12 Q14,18 8,18 H0 Z" transform="translate(502.49,778.63) scale(0.930,0.930)" class="lt" stroke-width="2.47"/>
<path d="M0,0 H13.5 L20.7,7 V20.6 L13.5,27.6 H0 Z" transform="translate(391.3,36.8)" class="tt"/><path d="M0,9.6 V27.6 M0,0.6 V2.4" transform="translate(429.6,36.8)" class="tt"/><path d="M0,27.6 V9.6 M0,14 Q2.5,9.6 6.5,9.6 Q10,9.6 10,14 V27.6 M10,14 Q12.5,9.6 16.5,9.6 Q20,9.6 20,14 V27.6" transform="translate(447.9,36.8)" class="tt"/><path d="M0.2,18.4 H19.4 Q19.4,9.6 9.7,9.6 Q0,9.6 0,18.6 Q0,27.6 9.7,27.6 Q15.5,27.6 18.6,24.2" transform="translate(475.4,36.8)" class="tt"/><path d="M0,27.6 V9.6 M0,15 Q3,9.6 10,9.6 Q20,9.6 20,15.5 V27.6" transform="translate(503.8,36.8)" class="tt"/><path d="M20,12.2 Q17,9.6 10,9.6 Q0.5,9.6 0.5,14 Q0.5,18 10,18.6 Q20,19.2 20,23 Q20,27.6 10,27.6 Q3,27.6 0,25" transform="translate(532.2,36.8)" class="tt"/><path d="M0,9.6 V27.6 M0,0.6 V2.4" transform="translate(570.4,36.8)" class="tt"/><path d="M10.35,9.6 Q20.7,9.6 20.7,18.6 Q20.7,27.6 10.35,27.6 Q0,27.6 0,18.6 Q0,9.6 10.35,9.6 Z" transform="translate(588,36.8)" class="tt"/><path d="M0,27.6 V9.6 M0,15 Q3,9.6 10,9.6 Q20,9.6 20,15.5 V27.6" transform="translate(616.3,36.8)" class="tt"/>
</svg>
<div class="ln" style="top:28.50px">A (Nose Diameter): 15.47 mm</div><div class="ln" style="top:87.20px">B (KTS Inducer): 59.87 mm</div><div class="ln" style="top:145.90px">C (KTS Base Exducer): 80.07 mm</div><div class="ln" style="top:204.60px">D (KTS Tapered Tip Exducer): 86.22 mm</div><div class="ln" style="top:263.30px">E (KTS Tip Height): 6.33 mm</div><div class="ln" style="top:322.00px">F (Superback): 4.94 mm</div><div class="ln" style="top:380.70px">G (Overall Height): 46.80 mm</div><div class="ln" style="top:439.40px">H (Bore Size): 6.35 mm</div><div class="ln" style="top:498.10px">I (Trailing Angle): 60°</div><div class="ln" style="top:556.80px">J (Cutback): 0 mm</div><div class="ln" style="top:615.50px">K (SP Height Angle): -4.70°</div><div class="ln" style="top:674.20px">L (BCCW Blade Height): 30.63 mm</div><div class="ln" style="top:732.90px">M (Splitter Height): 21.35 mm</div><div class="ln" style="top:791.60px">N (Tapered Tip Angle): 30°</div>
</body></html>
